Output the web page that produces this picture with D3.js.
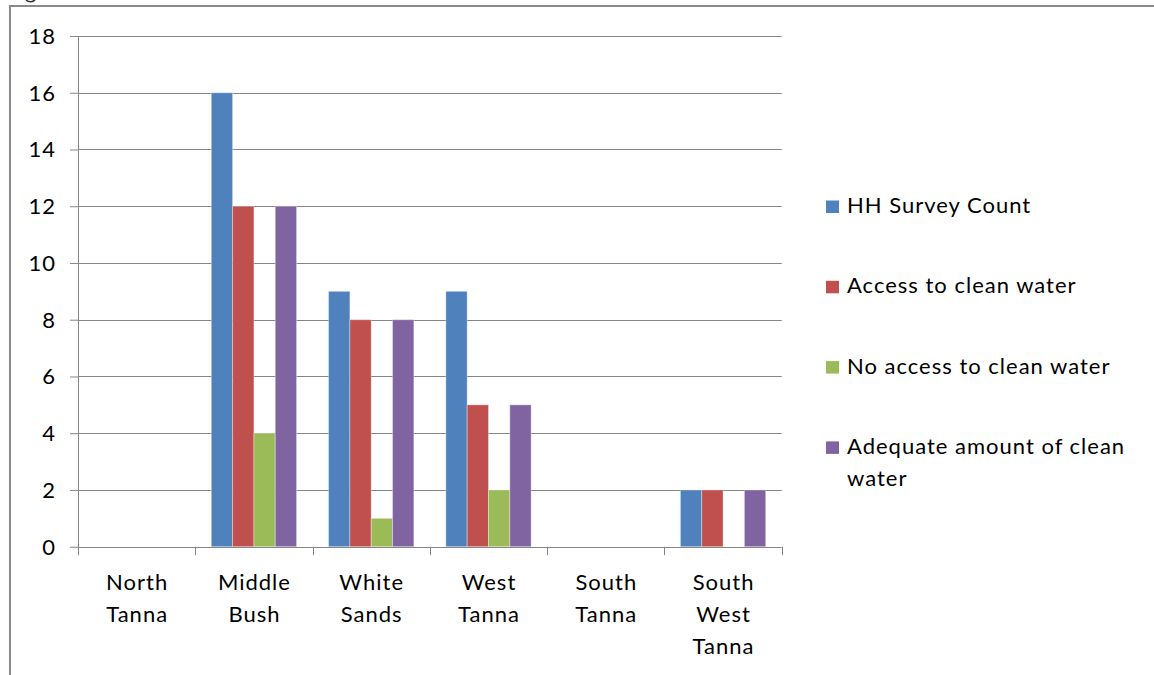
<!DOCTYPE html>
<html>
<head>
<meta charset="utf-8">
<script src="https://cdn.jsdelivr.net/npm/d3@7/dist/d3.min.js"></script>
<style>
  html, body { margin: 0; padding: 0; background: #fff; }
  svg { display: block; }
  text { font-family: Lato, "Open Sans", sans-serif; fill: #000; letter-spacing: 1px; }
</style>
</head>
<body>
<svg id="chart" width="1154" height="675"></svg>
<script>
// Household survey results by area
const categories = ["North Tanna", "Middle Bush", "White Sands", "West Tanna", "South Tanna", "South West Tanna"];
const seriesNames = ["HH Survey Count", "Access to clean water", "No access to clean water", "Adequate amount of clean water"];
const hhSurveyCount = [0, 16, 9, 9, 0, 2];
const accessCleanWater = [0, 12, 8, 5, 0, 2];
const noAccessCleanWater = [0, 4, 1, 2, 0, 0];
const adequateCleanWater = [0, 12, 8, 5, 0, 2];
const yTicks = [0, 2, 4, 6, 8, 10, 12, 14, 16, 18];
const seriesColors = ["#4F81BD", "#C0504D", "#9BBB59", "#8064A2"];

const seriesValues = [hhSurveyCount, accessCleanWater, noAccessCleanWater, adequateCleanWater];

const svg = d3.select("#chart");
const plot = { left: 78, right: 781.7, top: 36, bottom: 546.7 };
const fontSize = 22;
const gridColor = "#868686";

// outer frame (runs off the right and bottom edges)
svg.append("path")
  .attr("d", "M10,680 L10,6 L1160,6")
  .attr("fill", "none")
  .attr("stroke", "#8a8a8a")
  .attr("stroke-width", 2);

// small mark left of the frame's top edge
svg.append("path")
  .attr("d", "M26,0 Q30,3.5 35,0")
  .attr("fill", "none")
  .attr("stroke", "#333")
  .attr("stroke-width", 1.6);

const x0 = d3.scaleBand()
  .domain(categories)
  .range([plot.left, plot.right])
  .paddingInner(1.5 / 5.5)
  .paddingOuter(0.75 / 5.5);

const x1 = d3.scaleBand()
  .domain(d3.range(seriesNames.length))
  .range([0, x0.bandwidth()])
  .padding(0);

const y = d3.scaleLinear().domain([0, 18]).range([plot.bottom, plot.top]);

// horizontal gridlines
svg.append("g")
  .selectAll("line")
  .data(yTicks.filter(d => d > 0))
  .join("line")
  .attr("x1", plot.left).attr("x2", plot.right)
  .attr("y1", d => Math.round(y(d)) + 0.5).attr("y2", d => Math.round(y(d)) + 0.5)
  .attr("stroke", gridColor).attr("stroke-width", 1);

// y axis
const yAxis = svg.append("g")
  .attr("transform", `translate(${plot.left},0)`)
  .call(d3.axisLeft(y).tickValues(yTicks).tickSize(8).tickPadding(14).tickFormat(d3.format("d")));
yAxis.select(".domain").remove();
yAxis.selectAll(".tick line").attr("stroke", gridColor);
yAxis.selectAll(".tick text")
  .attr("font-size", fontSize)
  .attr("font-family", "Lato, sans-serif")
  .attr("fill", "#000")
  .attr("dy", "0.34em");
svg.append("line")
  .attr("x1", plot.left + 0.5).attr("x2", plot.left + 0.5)
  .attr("y1", plot.top).attr("y2", plot.bottom + 8.5)
  .attr("stroke", gridColor);

// bars
const groups = svg.append("g")
  .selectAll("g")
  .data(categories)
  .join("g")
  .attr("transform", d => `translate(${x0(d)},0)`);

groups.selectAll("rect")
  .data((c, i) => seriesValues.map((vals, s) => ({ s, v: vals[i] })))
  .join("rect")
  .filter(d => d.v > 0)
  .attr("x", d => x1(d.s))
  .attr("width", x1.bandwidth())
  .attr("y", d => y(d.v))
  .attr("height", d => y(0) - y(d.v))
  .attr("fill", d => seriesColors[d.s])
  .attr("stroke", "#ffffff")
  .attr("stroke-opacity", 0.35)
  .attr("stroke-width", 1);

// x axis baseline and category boundary ticks
const step = x0.step();
const boundaries = d3.range(categories.length + 1).map(i => plot.left + i * (plot.right - plot.left) / categories.length);
svg.append("line")
  .attr("x1", plot.left).attr("x2", plot.right)
  .attr("y1", Math.round(y(0)) + 0.5).attr("y2", Math.round(y(0)) + 0.5)
  .attr("stroke", gridColor);
svg.append("g")
  .selectAll("line")
  .data(boundaries)
  .join("line")
  .attr("x1", d => Math.round(d) + 0.5).attr("x2", d => Math.round(d) + 0.5)
  .attr("y1", y(0)).attr("y2", y(0) + 8.5)
  .attr("stroke", gridColor);

// category labels, one word per line
svg.append("g")
  .selectAll("text")
  .data(categories)
  .join("text")
  .attr("text-anchor", "middle")
  .attr("font-size", fontSize)
  .attr("transform", d => `translate(${x0(d) + x0.bandwidth() / 2 + 0.5},590)`)
  .selectAll("tspan")
  .data(d => d.split(" "))
  .join("tspan")
  .attr("x", 0)
  .attr("y", (d, i) => i * 32)
  .text(d => d);

// legend
const legendLines = [["HH Survey Count"], ["Access to clean water"], ["No access to clean water"], ["Adequate amount of clean", "water"]];
const legend = svg.append("g")
  .selectAll("g")
  .data(seriesNames)
  .join("g")
  .attr("transform", (d, i) => `translate(826,${213 + i * 80.3})`);
legend.append("rect")
  .attr("x", 0).attr("y", -12.5)
  .attr("width", 13).attr("height", 12.5)
  .attr("fill", (d, i) => seriesColors[i]);
legend.append("text")
  .attr("font-size", fontSize)
  .selectAll("tspan")
  .data((d, i) => legendLines[i])
  .join("tspan")
  .attr("x", 21)
  .attr("y", (d, i) => i * 32)
  .text(d => d);
</script>
</body>
</html>
